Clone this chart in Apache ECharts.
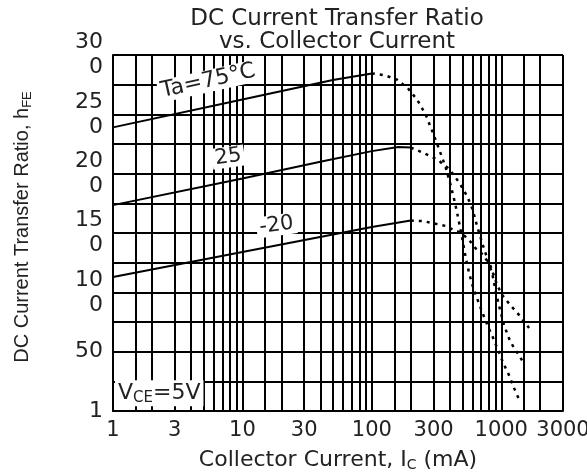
<!DOCTYPE html>
<html>
<head>
<meta charset="utf-8">
<script src="https://cdn.jsdelivr.net/npm/echarts@6/dist/echarts.min.js"></script>
<style>
html,body{margin:0;padding:0;background:#fff;}
#chart{width:587px;height:474px;}
</style>
</head>
<body>
<div id="chart"></div>
<script>
// ---- axis ticks / grid ----
const xGridValues = [1,1.5,2,3,4,5,6,7,8,9,10,15,20,30,40,50,60,70,80,90,100,150,200,300,400,500,600,700,800,900,1000,1500,2000,3000];
const xTickLabels = [1,3,10,30,100,300,1000,3000];
const yTickValues = [0,50,100,150,200,250,300];
const yTickLabels = ['1','50','100','150','200','250','300'];

// ---- data: [Ic (mA), hFE] ----
const ta75Solid = [[1,239],[10,262.5],[50,279],[100,284.5]];
const ta75Dotted = [[100,284.5],[125,283],[155,279.5],[190,272],[225,262],[260,250],[295,235],[330,221],[370,206],[405,191],[440,175],[470,160],[500,145],[530,130],[565,116],[610,103],[660,93],[715,83],[780,72.5],[855,63],[935,52.5],[1040,40],[1150,30],[1260,19],[1370,10]];
const ta25Solid = [[1,173.5],[10,196],[40,210],[100,219],[160,222.5],[200,222]];
const ta25Dotted = [[200,222],[250,217.5],[320,212],[385,205],[430,199],[485,190.5],[545,181],[600,170],[650,156],[715,141],[780,128.5],[855,115],[905,101],[960,89],[1050,72.5],[1150,61],[1255,53],[1370,47],[1500,40]];
const taM20Solid = [[1,113],[10,134],[100,155],[200,160.5]];
const taM20Dotted = [[200,160.5],[250,160],[320,157.5],[370,156],[430,152.5],[470,151],[500,149.5],[580,142.5],[635,137],[690,134],[757,128.5],[828,122],[930,106],[1020,97.5],[1180,89],[1370,81],[1640,70]];

const TXT = '#222';
const FONT = 'DejaVu Sans';

function curve(data, dotted, markPoint) {
  const s = {
    type: 'line',
    data: data,
    symbol: 'none',
    showSymbol: false,
    silent: true,
    animation: false,
    lineStyle: dotted
      ? {color: '#000', width: 2.5, type: [3, 5]}
      : {color: '#000', width: 2, type: 'solid'}
  };
  if (markPoint) s.markPoint = markPoint;
  return s;
}

function tag(coord, text, rotate, extra) {
  return Object.assign({
    coord: coord,
    symbol: 'circle',
    symbolSize: 0,
    itemStyle: {color: 'rgba(0,0,0,0)'},
    label: Object.assign({
      show: true,
      position: 'inside',
      formatter: text,
      rotate: rotate,
      backgroundColor: '#fff',
      padding: [0, 3, 0, 3],
      fontFamily: FONT,
      fontSize: 22,
      color: TXT
    }, extra || {})
  });
}

const annotations = {
  symbol: 'circle',
  symbolSize: 0,
  silent: true,
  animation: false,
  data: [
    tag([5.44, 278], 'Ta=75°C', 12.5),
    tag([7.76, 214], '25', 8, {fontSize: 21}),
    tag([18.3, 156.5], '-20', 8, {fontSize: 21}),
    tag([1, 15], '{v|V}{s|CE}{v|=5V}', 0, {
      position: 'right', distance: 2, padding: [1, 3, 1, 3],
      rich: {
        v: {fontFamily: FONT, fontSize: 22, color: TXT},
        s: {fontFamily: FONT, fontSize: 15, color: TXT, padding: [9, 0, 0, 0]}
      }
    })
  ]
};

const chart = echarts.init(document.getElementById('chart'), null, {renderer: 'canvas'});
chart.setOption({
  animation: false,
  backgroundColor: '#fff',
  title: {
    text: 'DC Current Transfer Ratio\nvs. Collector Current',
    left: 337,
    top: 8,
    textAlign: 'center',
    padding: 0,
    textStyle: {fontFamily: FONT, fontSize: 23, fontWeight: 'normal', lineHeight: 23, color: TXT}
  },
  grid: {left: 113, right: 24, top: 55, bottom: 63, containLabel: false, outerBoundsMode: 'none'},
  xAxis: {
    type: 'log',
    logBase: 10,
    min: 1,
    max: 3000,
    axisLine: {show: true, onZero: false, lineStyle: {color: '#000', width: 2}},
    axisTick: {show: false, customValues: xGridValues},
    splitLine: {show: true, lineStyle: {color: '#000', width: 2}},
    minorTick: {show: false},
    minorSplitLine: {show: false},
    axisLabel: {
      customValues: xTickLabels,
      formatter: function (v) { return String(v); },
      fontFamily: FONT, fontSize: 21, color: TXT, margin: 9
    },
    name: 'Collector Current, I{s|C} (mA)',
    nameLocation: 'middle',
    nameGap: 37,
    nameTextStyle: {
      fontFamily: FONT, fontSize: 22, color: TXT,
      rich: {s: {fontFamily: FONT, fontSize: 14, color: TXT, padding: [10, 0, 0, 0]}}
    }
  },
  yAxis: {
    type: 'value',
    min: 0,
    max: 300,
    interval: 25,
    axisLine: {show: true, lineStyle: {color: '#000', width: 2}},
    axisTick: {show: false},
    splitLine: {show: true, lineStyle: {color: '#000', width: 2}},
    axisLabel: {
      customValues: yTickValues,
      formatter: function (v) {
        const s = yTickLabels[yTickValues.indexOf(v)];
        return s.length > 2 ? s.slice(0, 2) + '\n' + s.slice(2) : s;
      },
      fontFamily: FONT, fontSize: 22, lineHeight: 25, color: TXT, margin: 10
    },
    name: 'DC Current Transfer Ratio, h{s|FE}',
    nameLocation: 'middle',
    nameRotate: 90,
    nameGap: 79,
    nameTextStyle: {
      fontFamily: 'Liberation Sans', fontSize: 20, color: TXT,
      padding: [0, 0, 0, 12],
      rich: {s: {fontFamily: 'Liberation Sans', fontSize: 13, color: TXT, padding: [10, 0, 0, 0]}}
    }
  },
  series: [
    curve(ta75Solid, false, annotations),
    curve(ta75Dotted, true),
    curve(ta25Solid, false),
    curve(ta25Dotted, true),
    curve(taM20Solid, false),
    curve(taM20Dotted, true)
  ]
});
</script>
</body>
</html>
